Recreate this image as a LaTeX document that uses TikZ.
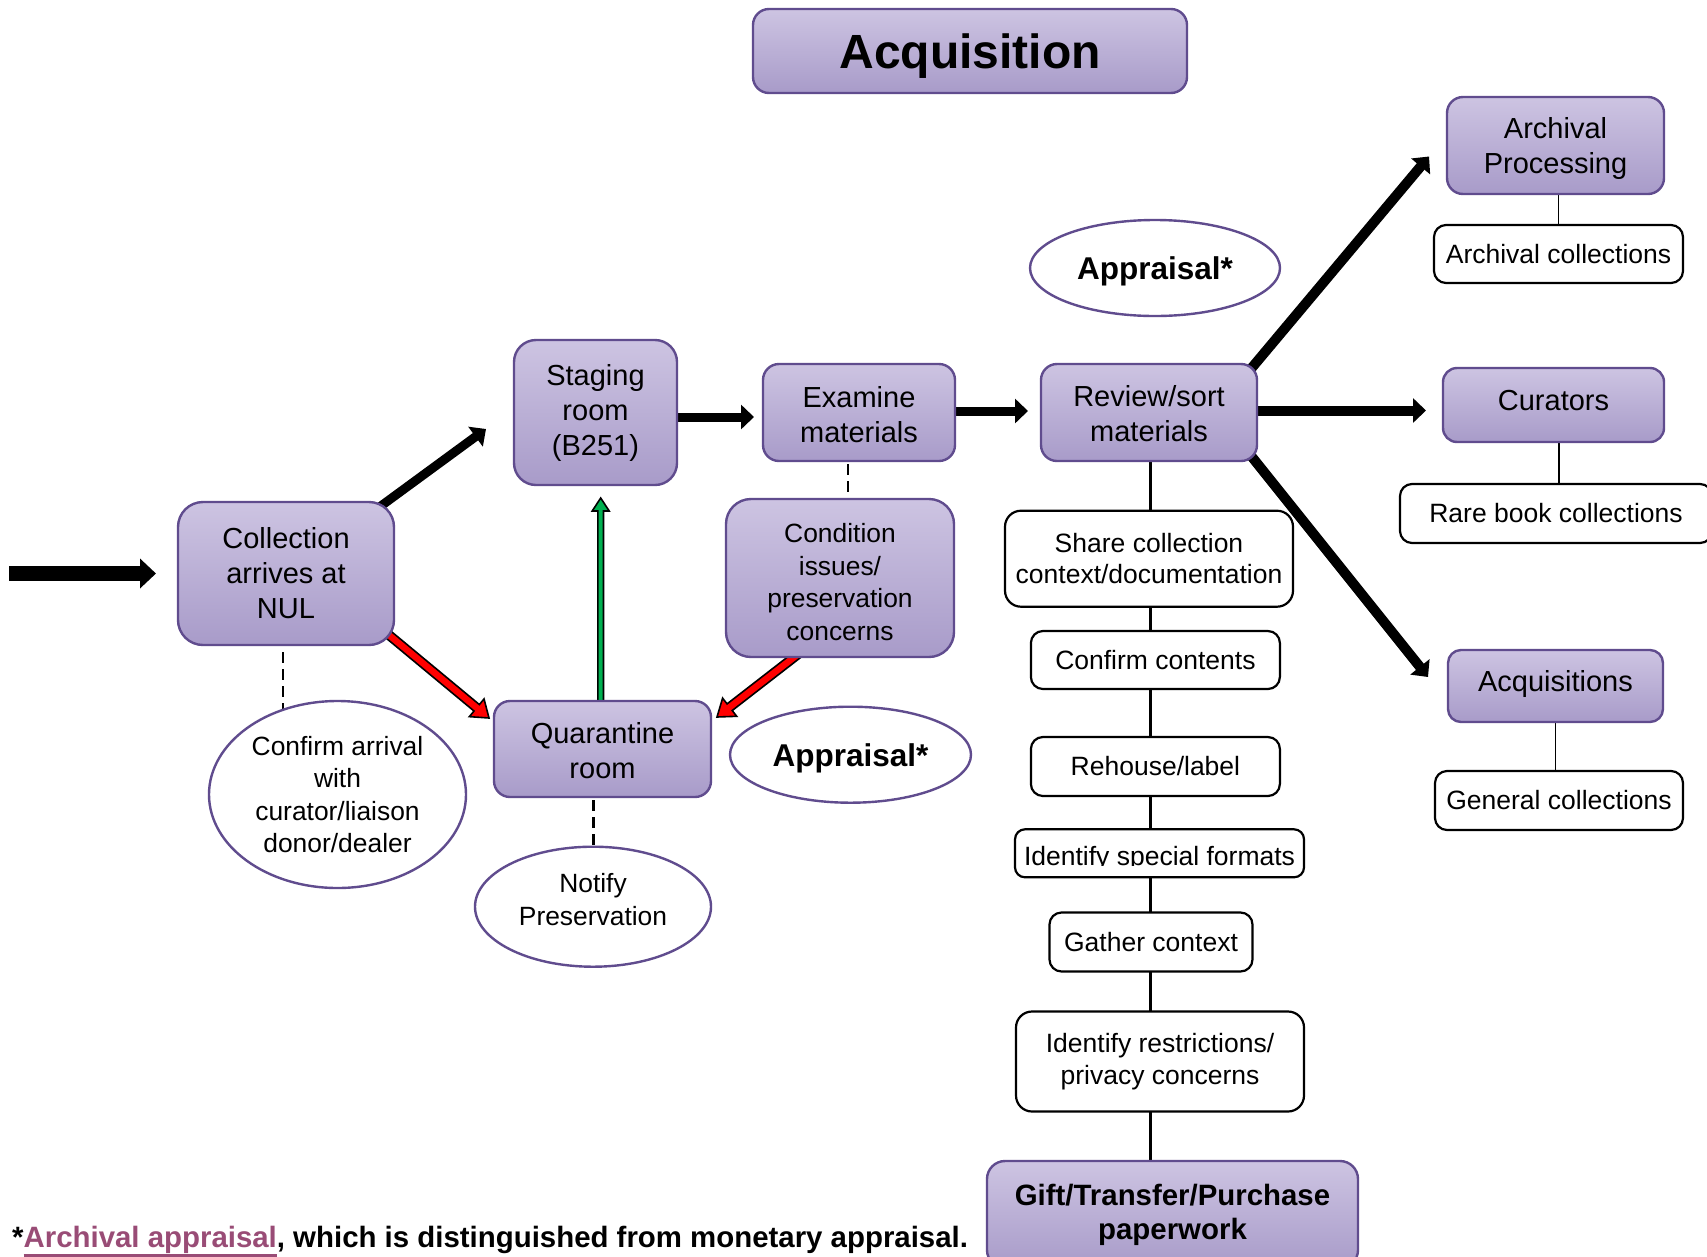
\documentclass[tikz,border=0pt]{standalone}
\usepackage{fontspec}
\setmainfont{Liberation Sans}
\usetikzlibrary{shapes.geometric,arrows.meta,calc}
\definecolor{ptop}{RGB}{205,196,226}
\definecolor{pbot}{RGB}{168,155,201}
\definecolor{pborder}{RGB}{96,76,142}
\definecolor{mauve}{RGB}{153,76,118}
\definecolor{agreen}{RGB}{0,176,80}
\definecolor{ared}{RGB}{255,0,0}
\newcommand\pfont{\fontsize{29}{35}\selectfont}
\newcommand\cfont{\fontsize{26.4}{32.6}\selectfont}
\newcommand\wfont{\fontsize{26.5}{31.6}\selectfont}
\newcommand\afont{\fontsize{31.5}{36}\selectfont\bfseries}
\newcommand\tfont{\fontsize{48}{56}\selectfont\bfseries}
\newcommand\gfont{\fontsize{29.4}{34}\selectfont\bfseries}
\newcommand\ffont{\fontsize{29.4}{34}\selectfont\bfseries}
\newcommand\ulink[1]{\setbox0\hbox{\textcolor{mauve}{#1}}\rlap{\textcolor{mauve}{\rule[-9.5pt]{\wd0}{3pt}}}\box0}
\newcommand\dn[1]{\rule[-#1]{0pt}{#1}}
\newcommand\up[1]{\rule{0pt}{#1}}
\newcommand\blockarr[6]{%
  \coordinate (ba-p) at ($(#3)!#6!(#2)$);
  \filldraw[fill=#1, draw=black, line width=1.6pt, line join=miter]
    ($(#2)!#4!90:(#3)$) -- ($(ba-p)!#4!90:(#3)$) -- ($(ba-p)!#5!90:(#3)$) -- (#3)
    -- ($(ba-p)!#5!-90:(#3)$) -- ($(ba-p)!#4!-90:(#3)$) -- ($(#2)!#4!-90:(#3)$) -- cycle;}
\pgfdeclarelayer{bg}
\pgfsetlayers{bg,main}
\tikzset{
  pbox/.style={draw=pborder, line width=2.4pt, rounded corners=16pt, top color=ptop, bottom color=pbot,
    inner sep=0pt, outer sep=0pt, align=center, font=\pfont, text=black},
  wbox/.style={draw=black, line width=2.2pt, rounded corners=12pt, fill=white,
    inner sep=0pt, outer sep=0pt, align=center, font=\wfont},
  pell/.style={ellipse, draw=pborder, line width=2.4pt, fill=white, inner sep=0pt, outer sep=0pt, align=center},
  barrow/.style={line width=#1, -{Triangle[width=24pt,length=13pt]}},
  dline/.style={line width=2.4pt, dash pattern=on 11pt off 6pt},
  cline/.style={line width=2.4pt},
  tline/.style={line width=1.6pt}
}
\begin{document}
\begin{tikzpicture}[x=1pt,y=-1pt]
\useasboundingbox (0,0) rectangle (1707,1256);
% title
\node[pbox, rounded corners=16pt, minimum width=434pt, minimum height=84pt, font=\tfont, text depth=0pt] (title) at (970,51) {Acquisition};
% main flow
\node[pbox, rounded corners=25pt, minimum width=216pt, minimum height=143pt] (coll) at (286,573.5) {Collection\\arrives at\\NUL};
\node[pbox, rounded corners=22pt, minimum width=163pt, minimum height=145pt] (staging) at (595.5,412.5) {Staging\\room\\(B251)};
\node[pbox, minimum width=192pt, minimum height=97pt] (exam) at (859,412.5) {\up{24.4pt}Examine\\materials};
\node[pbox, minimum width=216pt, minimum height=97pt] (review) at (1149,412.5) {\up{23pt}Review/sort\\materials};
\node[pbox, rounded corners=25pt, minimum width=228pt, minimum height=158pt, font=\cfont] (cond) at (840,578) {\up{27.5pt}Condition\\issues/\\preservation\\concerns};
\node[pbox, minimum width=217pt, minimum height=96pt] (quar) at (602.5,749) {\up{24.4pt}Quarantine\\room};
% ellipses
\node[pell, minimum width=250pt, minimum height=96pt, font=\afont, text depth=0pt] (appr1) at (1155,268) {Appraisal*};
\node[pell, minimum width=241pt, minimum height=96pt, font=\afont, text depth=0pt] (appr2) at (850.5,754.7) {Appraisal*};
\node[pell, minimum width=257pt, minimum height=187pt, font=\cfont] (conf) at (337.5,794.5) {Confirm arrival\\with\\curator/liaison\\donor/dealer};
\node[pell, minimum width=236pt, minimum height=120pt, font=\cfont] (notify) at (593,906.7) {Notify\\Preservation\dn{15pt}};
% right destinations
\node[pbox, minimum width=217pt, minimum height=97pt] (archproc) at (1555.5,145.5) {\up{26.6pt}Archival\\Processing};
\node[wbox, minimum width=249pt, minimum height=58pt] (archcoll) at (1558.5,254) {Archival collections};
\node[pbox, rounded corners=14pt, minimum width=221pt, minimum height=74pt] (curators) at (1553.5,405) {Curators\dn{8.8pt}};
\node[wbox, minimum width=312pt, minimum height=59pt] (rare) at (1556,513.5) {Rare book collections};
\node[pbox, rounded corners=13pt, minimum width=215pt, minimum height=72pt] (acq) at (1555.5,686) {Acquisitions\dn{10.5pt}};
\node[wbox, minimum width=248pt, minimum height=59pt] (gencoll) at (1559,800.5) {General collections};
% review column
\node[wbox, rounded corners=16pt, minimum width=288pt, minimum height=96pt] (share) at (1149,558.7) {Share collection\\context/documentation};
\node[wbox, minimum width=249pt, minimum height=58pt] (confc) at (1155.4,660) {Confirm contents};
\node[wbox, minimum width=249pt, minimum height=59pt] (rehouse) at (1155.4,766.5) {Rehouse/label};
\node[wbox, rounded corners=10pt, minimum width=289pt, minimum height=48pt] (special) at (1159.5,853.3) {};
\begin{scope}
  \clip ($(special.north west)+(0,2)$) rectangle ($(special.south east)+(0,-11.5)$);
  \node[font=\wfont, anchor=base, inner sep=0pt] (specialtxt) at ($(special.south)+(0,-12.3)$) {Identify special formats};
\end{scope}
\node[wbox, minimum width=203pt, minimum height=59pt] (gather) at (1151,942) {Gather context};
\node[wbox, rounded corners=16pt, minimum width=288pt, minimum height=100pt] (restr) at (1160,1061.5) {Identify restrictions/\\privacy concerns};
\node[pbox, rounded corners=18pt, minimum width=371pt, minimum height=107pt, font=\gfont] (gift) at (1172.5,1214.5) {Gift/Transfer/Purchase\\paperwork};
% footnote
\node[anchor=base west, inner sep=0pt, font=\ffont] (foot) at (12,1247.5) {*\ulink{Archival appraisal}, which is distinguished from monetary appraisal.};

\begin{pgfonlayer}{bg}
  \fill[white] (0,0) rectangle (1707,1256);
  % entry arrow
  \coordinate (inS) at ($(coll.west)+(-169,0)$);
  \coordinate (inE) at ($(coll.west)+(-22,0)$);
  \draw[line width=15pt, -{Triangle[width=29pt,length=16pt]}] (inS) -- (inE);
  % collection -> staging
  \coordinate (bS) at ($(coll.north east)+(-24,12)$);
  \coordinate (bE) at ($(staging.west)+(-28,16.5)$);
  \draw[barrow=9pt] (bS) -- (bE);
  % staging -> examine
  \coordinate (cS) at ($(staging.east)+(-5,4.5)$);
  \coordinate (cE) at ($(exam.west)+(-9,4.5)$);
  \draw[barrow=9pt] (cS) -- (cE);
  % examine -> review
  \coordinate (dS) at ($(exam.east)+(-5,-1.5)$);
  \coordinate (dE) at ($(review.west)+(-13,-1.5)$);
  \draw[barrow=9pt] (dS) -- (dE);
  % review -> archival processing
  \coordinate (eS) at ($(review.north east)+(-15,15.5)$);
  \coordinate (eE) at ($(archproc.west)+(-18,11)$);
  \draw[barrow=10pt] (eS) -- (eE);
  % review -> curators
  \coordinate (fS) at ($(review.east)+(-5,-2)$);
  \coordinate (fE) at ($(curators.west)+(-17,5.5)$);
  \draw[barrow=10pt] (fS) -- (fE);
  % review -> acquisitions
  \coordinate (gS2) at ($(review.south east)+(-13,-14)$);
  \coordinate (gE2) at ($(acq.west)+(-20,-9)$);
  \draw[barrow=10pt] (gS2) -- (gE2);
  % red and green block arrows
  \coordinate (r1S) at ($(coll.south east)+(-16.5,-19.5)$);
  \coordinate (r1E) at ($(quar.north west)+(-5,17)$);
  \blockarr{ared}{r1S}{r1E}{4.2pt}{11.5pt}{16pt}
  \coordinate (r2S) at ($(cond.south)+(-34,-9)$);
  \coordinate (r2E) at ($(quar.north east)+(6,16)$);
  \blockarr{ared}{r2S}{r2E}{4.2pt}{11.5pt}{16pt}
  \coordinate (grS) at ($(quar.north)+(-1.8,6)$);
  \coordinate (grE) at ($(staging.south)+(5.2,13)$);
  \blockarr{agreen}{grS}{grE}{2.8pt}{8.5pt}{13pt}
  % dashed links
  \coordinate (k1) at ($(coll.south)+(-3,7)$);
  \draw[dline] (k1) -- (k1 |- conf.123);
  \coordinate (k2) at ($(quar.south)+(-9,3)$);
  \draw[dline] (k2) -- (k2 |- notify.north);
  \coordinate (k3) at ($(exam.south)+(-11,3)$);
  \draw[dline] (k3) -- (k3 |- cond.north);
  % review column
  \coordinate (cx) at ($(review.south)+(1.4,0)$);
  \draw[cline] (cx) -- (cx |- share.north);
  \draw[cline] (cx |- share.south) -- (cx |- confc.north);
  \draw[cline] (cx |- confc.south) -- (cx |- rehouse.north);
  \draw[cline] (cx |- rehouse.south) -- (cx |- special.north);
  \draw[cline] (cx |- special.south) -- (cx |- gather.north);
  \draw[cline] (cx |- gather.south) -- (cx |- restr.north);
  \draw[cline] (cx |- restr.south) -- (cx |- gift.north);
  % destination links
  \draw[tline] (archcoll.north |- archproc.south) -- (archcoll.north);
  \coordinate (rx) at ($(rare.north)+(2.7,0)$);
  \draw[tline] (rx |- curators.south) -- (rx);
  \draw[tline] (acq.south) -- (acq.south |- gencoll.north);
\end{pgfonlayer}
\end{tikzpicture}
\end{document}
